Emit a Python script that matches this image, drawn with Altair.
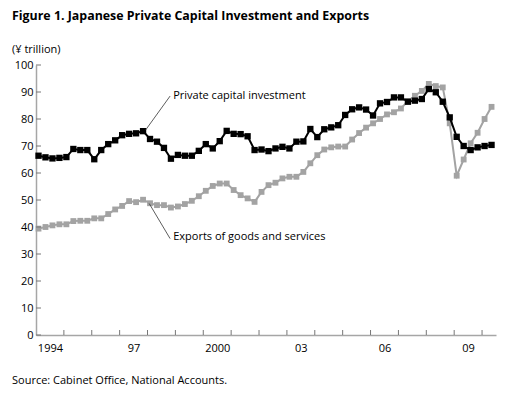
import altair as alt
import pandas as pd

# Quarterly data, 1994 Q1 - 2010 Q2 (¥ trillion)
years = [y for y in range(1994, 2011) for _ in range(4)][:66]
quarters = [q for _ in range(1994, 2011) for q in range(1, 5)][:66]

investment = [66.4, 65.8, 65.4, 65.6, 65.9, 68.9, 68.5, 68.5, 65.1, 68.5,
              70.7, 72.1, 74.0, 74.5, 74.7, 75.5, 72.6, 71.6, 69.3, 65.3,
              66.7, 66.4, 66.4, 68.2, 70.7, 69.1, 71.8, 75.6, 74.5, 74.4,
              73.6, 68.5, 68.7, 68.1, 69.1, 69.7, 69.1, 71.6, 71.7, 76.3,
              73.3, 76.2, 76.9, 77.7, 81.5, 83.6, 84.3, 83.5, 81.3, 85.8,
              86.3, 88.0, 88.0, 86.4, 86.8, 87.4, 91.1, 89.9, 86.4, 80.6,
              73.4, 70.0, 68.5, 69.5, 70.0, 70.4]

exports = [39.4, 40.0, 40.6, 41.0, 41.0, 42.2, 42.3, 42.3, 43.2, 43.2,
           44.8, 46.5, 47.8, 49.6, 49.2, 50.1, 48.8, 48.1, 48.1, 47.2,
           47.6, 48.5, 49.7, 51.4, 53.4, 55.2, 56.1, 56.1, 53.7, 51.8,
           50.6, 49.3, 53.0, 55.5, 56.4, 58.0, 58.6, 58.6, 60.4, 63.6,
           66.6, 68.7, 69.5, 69.8, 69.8, 72.4, 74.8, 76.8, 78.4, 80.0,
           81.7, 82.5, 83.9, 86.6, 88.6, 90.4, 93.0, 92.2, 91.7, 78.4,
           59.0, 65.0, 71.0, 74.9, 80.0, 84.5]

y_ticks = [0, 10, 20, 30, 40, 50, 60, 70, 80, 90, 100]
x_tick_years = list(range(1995, 2011))
x_label_years = [1994, 1997, 2000, 2003, 2006, 2009]
x_label_texts = ["1994", "97", "2000", "03", "06", "09"]

title_text = "Figure 1. Japanese Private Capital Investment and Exports"
unit_text = "(¥ trillion)"
source_text = "Source: Cabinet Office, National Accounts."
label_inv = "Private capital investment"
label_exp = "Exports of goods and services"

FONT = "Open Sans"

df = pd.DataFrame({
    "t": [y + (q - 1) / 4 + 0.09 for y, q in zip(years, quarters)],
    "investment": investment,
    "exports": exports,
})

xs = alt.Scale(domain=[1994, 2010.5], nice=False, zero=False)
ys = alt.Scale(domain=[0, 100], nice=False, zero=False)

label_expr = ""
for yv, txt in zip(x_label_years, x_label_texts):
    label_expr += f"datum.value == {yv + 0.5} ? '{txt}' : "
label_expr += "''"

x_axis = alt.Axis(values=[v + 0.5 for v in x_label_years], labelExpr=label_expr,
                  ticks=False, grid=False, title=None, domainColor="#a6a6a6",
                  domainWidth=1.5, labelFont=FONT, labelFontSize=11,
                  labelColor="#000", labelPadding=7, labelOverlap=False)
y_axis = alt.Axis(values=y_ticks, ticks=False, grid=False, title=None,
                  domainColor="#a6a6a6", domainWidth=1.5, labelFont=FONT,
                  labelFontSize=11, labelColor="#000", labelPadding=3,
                  labelOverlap=False, labelFlush=False)


def X(field):
    return alt.X(field, scale=xs, axis=x_axis)


def Y(field):
    return alt.Y(field, scale=ys, axis=y_axis)


base = alt.Chart(df)

exp_line = base.mark_line(color="#a3a3a3", strokeWidth=2).encode(
    x=X("t:Q"), y=Y("exports:Q"))
exp_pts = base.mark_square(color="#a3a3a3", size=34, opacity=1).encode(
    x=X("t:Q"), y=Y("exports:Q"))
inv_line = base.mark_line(color="#000", strokeWidth=2).encode(
    x=X("t:Q"), y=Y("investment:Q"))
inv_pts = base.mark_square(color="#000", size=40, opacity=1).encode(
    x=X("t:Q"), y=Y("investment:Q"))

xt = alt.Chart(pd.DataFrame({"yr": x_tick_years})).mark_rule(
    color="#777", strokeWidth=1).encode(
    x=X("yr:Q"), y=alt.value(270), y2=alt.value(265))
yt = alt.Chart(pd.DataFrame({"v": y_ticks})).mark_rule(
    color="#777", strokeWidth=1).encode(
    y=Y("v:Q"), x=alt.value(0), x2=alt.value(5))

ann = pd.DataFrame({
    "x1": [1997.93, 1998.06], "y1": [75.9, 48.7],
    "x2": [1998.81, 1998.81], "y2": [88.5, 35.7],
    "tx": [1998.92, 1998.92], "ty": [88.6, 36.3],
    "label": [label_inv, label_exp],
})
ann_lines = alt.Chart(ann).mark_rule(color="#333", strokeWidth=0.8).encode(
    x=X("x1:Q"), y=Y("y1:Q"), x2="x2:Q", y2="y2:Q")
ann_text = alt.Chart(ann).mark_text(align="left", baseline="middle", font=FONT,
                                    fontSize=11, color="#000").encode(
    x=X("tx:Q"), y=Y("ty:Q"), text="label:N")


def free_text(txt, x, y, size, weight="normal", baseline="middle"):
    return alt.Chart(pd.DataFrame({"s": [txt]})).mark_text(
        align="left", baseline=baseline, font=FONT, fontSize=size,
        fontWeight=weight, color="#000").encode(
        x=alt.value(x), y=alt.value(y), text="s:N")


title = free_text(title_text, -24, -45.5, 12.4, "bold", "alphabetic")
unit = free_text(unit_text, -24, -15, 11)
source = free_text(source_text, -24, 316, 11)

chart = alt.layer(
    exp_line, exp_pts, inv_line, inv_pts, xt, yt, ann_lines, ann_text,
    title, unit, source
).properties(
    width=460, height=270,
    autosize=alt.AutoSizeParams(type="none"),
    padding={"left": 28, "top": 57, "right": 6, "bottom": 52},
).configure_view(stroke=None)

chart.save("out.html", embed_options={"renderer": "svg", "actions": False})
